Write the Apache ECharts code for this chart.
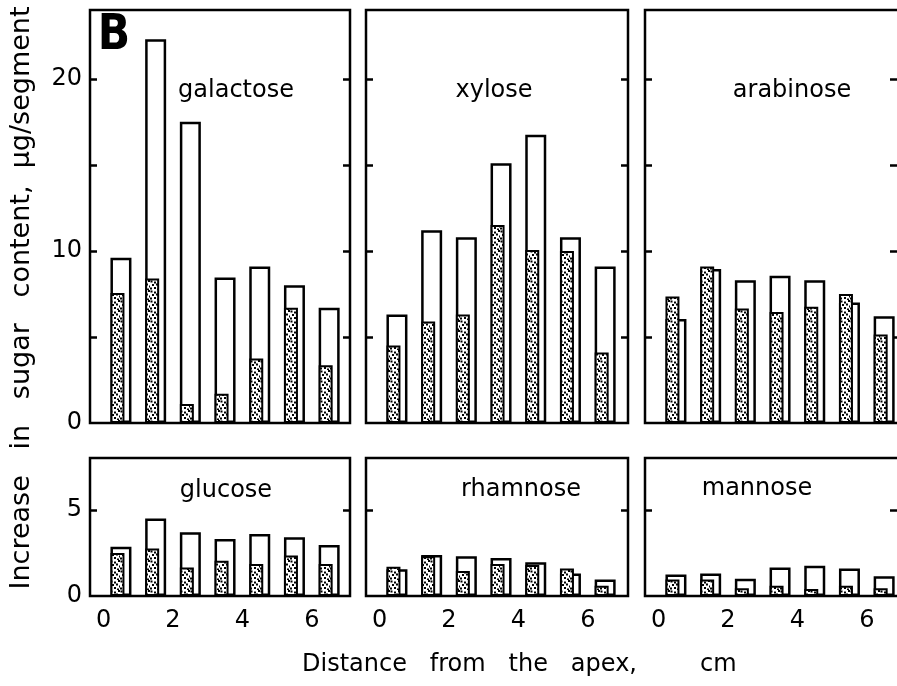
<!DOCTYPE html>
<html>
<head>
<meta charset="utf-8">
<script src="https://cdn.jsdelivr.net/npm/echarts@6/dist/echarts.min.js"></script>
<style>
  html, body { margin: 0; padding: 0; background: #fff; }
  #chart { width: 897px; height: 686px; }
</style>
</head>
<body>
<div id="chart"></div>
<script>
// Segment midpoints along the root (cm from the apex)
const segments = [0.5, 1.5, 2.5, 3.5, 4.5, 5.5, 6.5];
const distanceTicks = [0, 2, 4, 6];

const sugars = ['galactose', 'xylose', 'arabinose', 'glucose', 'rhamnose', 'mannose'];

// Increase in sugar content, µg/segment: open bars and stippled bars
const galactoseOpen      = [9.6, 22.3, 17.5, 8.45, 9.1, 8.0, 6.7];
const galactoseStippled  = [7.55, 8.4, 1.1, 1.7, 3.75, 6.7, 3.35];
const xyloseOpen         = [6.3, 11.2, 10.8, 15.1, 16.75, 10.8, 9.1];
const xyloseStippled     = [4.5, 5.9, 6.3, 11.5, 10.05, 10.0, 4.1];
const arabinoseOpen      = [6.05, 8.95, 8.3, 8.55, 8.3, 7.0, 6.2];
const arabinoseStippled  = [7.35, 9.1, 6.65, 6.45, 6.75, 7.5, 5.15];
const glucoseOpen        = [2.85, 4.5, 3.7, 3.3, 3.6, 3.4, 2.95];
const glucoseStippled    = [2.5, 2.75, 1.65, 2.05, 1.85, 2.35, 1.85];
const rhamnoseOpen       = [1.55, 2.38, 2.3, 2.2, 1.95, 1.3, 0.95];
const rhamnoseStippled   = [1.7, 2.3, 1.45, 1.85, 1.8, 1.6, 0.6];
const mannoseOpen        = [1.25, 1.3, 1.0, 1.65, 1.75, 1.6, 1.15];
const mannoseStippled    = [0.95, 0.95, 0.45, 0.6, 0.4, 0.6, 0.45];

const openValues = [galactoseOpen, xyloseOpen, arabinoseOpen, glucoseOpen, rhamnoseOpen, mannoseOpen];
const stippledValues = [galactoseStippled, xyloseStippled, arabinoseStippled, glucoseStippled, rhamnoseStippled, mannoseStippled];

// Value-axis ranges and tick marks for the two rows
const upperMax = 24, lowerMax = 8;
const upperTicks = [5, 10, 15, 20], upperLabels = [0, 10, 20];
const lowerTicks = [5], lowerLabels = [0, 5];

// ---- layout (pixels) ----
const colLeft  = [90, 366, 645];
const colRight = [350, 628, 900];
const rowTop    = [10, 458];
const rowBottom = [423, 596];
const pxPerCm = 34.7;
const xMin = -0.392;

const FONT = '"DejaVu Sans", "Liberation Sans", sans-serif';
const LINE = 2.5;

// stipple texture for the shaded bars
function makeStipple() {
  const c = document.createElement('canvas');
  c.width = 10; c.height = 10;
  const g = c.getContext('2d');
  g.fillStyle = '#fff';
  g.fillRect(0, 0, 10, 10);
  g.fillStyle = '#000';
  const dots = [[0.5, 0.5], [4, 1.5], [8, 0], [2, 4], [6, 3.5], [9, 5.5], [0, 7.5], [4, 7], [7, 8.5]];
  dots.forEach(([x, y]) => g.fillRect(x, y, 2, 2));
  return c;
}
const stipple = makeStipple();

const grids = [], xAxes = [], yAxes = [], series = [];

sugars.forEach((name, i) => {
  const row = i < 3 ? 0 : 1;
  const col = i % 3;
  const left = colLeft[col], right = colRight[col];
  const top = rowTop[row], bottom = rowBottom[row];
  grids.push({
    left: left, top: top, width: right - left, height: bottom - top,
    outerBoundsMode: 'none', containLabel: false,
    show: true, borderColor: '#000', borderWidth: LINE, backgroundColor: 'transparent'
  });
  xAxes.push({
    gridIndex: i, type: 'value',
    min: xMin, max: xMin + (right - left) / pxPerCm,
    axisLine: { show: false, onZero: false }, axisTick: { show: false }, splitLine: { show: false },
    axisLabel: {
      show: row === 1, customValues: distanceTicks, margin: 13,
      color: '#000', fontSize: 24, fontFamily: FONT
    }
  });
  const ymax = row === 0 ? upperMax : lowerMax;
  const ticks = row === 0 ? upperTicks : lowerTicks;
  const labels = row === 0 ? upperLabels : lowerLabels;
  ['left', 'right'].forEach(pos => {
    yAxes.push({
      gridIndex: i, type: 'value', position: pos, min: 0, max: ymax,
      axisLine: { show: false, onZero: false }, splitLine: { show: false },
      axisTick: { show: true, inside: true, length: pos === 'right' && col === 2 ? 10 : 7,
                  customValues: ticks, lineStyle: { color: '#000', width: LINE } },
      axisLabel: {
        show: pos === 'left' && col === 0, customValues: labels, margin: 8,
        color: '#000', fontSize: 24, fontFamily: FONT
      }
    });
  });
  series.push({
    type: 'bar', xAxisIndex: i, yAxisIndex: 2 * i,
    data: segments.map((x, j) => [x, stippledValues[i][j]]),
    barWidth: 14, barGap: '-100%', z: 3, silent: true,
    itemStyle: { color: { image: stipple, repeat: 'repeat' }, borderColor: '#000', borderWidth: 2 }
  });
  series.push({
    type: 'bar', xAxisIndex: i, yAxisIndex: 2 * i,
    data: segments.map((x, j) => [x, openValues[i][j]]),
    barWidth: 21, barGap: '-100%', z: 2, silent: true,
    itemStyle: { color: '#fff', borderColor: '#000', borderWidth: LINE }
  });
});

// panel names and figure texts
const namePos = [[236, 91], [494, 91], [792, 91], [226, 491], [521, 490], [757, 489]];
const graphic = sugars.map((name, i) => ({
  type: 'text', x: namePos[i][0], y: namePos[i][1], z: 10,
  style: { text: name, font: '24px ' + FONT, fill: '#000', textAlign: 'center', textVerticalAlign: 'middle' }
}));
graphic.push({
  type: 'text', x: 114, y: 36, z: 10, scaleX: 0.85,
  style: { text: 'B', font: 'bold 50px ' + FONT, fill: '#000', textAlign: 'center', textVerticalAlign: 'middle' }
});
graphic.push({
  type: 'text', x: 22, y: 298, rotation: Math.PI / 2, z: 10,
  style: { text: 'Increase   in   sugar   content,  μg/segment', font: '27px ' + FONT, fill: '#000',
           textAlign: 'center', textVerticalAlign: 'middle' }
});
graphic.push({
  type: 'text', x: 302, y: 665, z: 10,
  style: { text: 'Distance   from   the   apex,', font: '24px ' + FONT, fill: '#000',
           textAlign: 'left', textVerticalAlign: 'middle' }
});
graphic.push({
  type: 'text', x: 700, y: 665, z: 10,
  style: { text: 'cm', font: '24px ' + FONT, fill: '#000', textAlign: 'left', textVerticalAlign: 'middle' }
});

const chart = echarts.init(document.getElementById('chart'), null, { renderer: 'canvas' });
chart.setOption({
  animation: false,
  backgroundColor: '#fff',
  grid: grids, xAxis: xAxes, yAxis: yAxes, series: series, graphic: graphic
});
</script>
</body>
</html>
